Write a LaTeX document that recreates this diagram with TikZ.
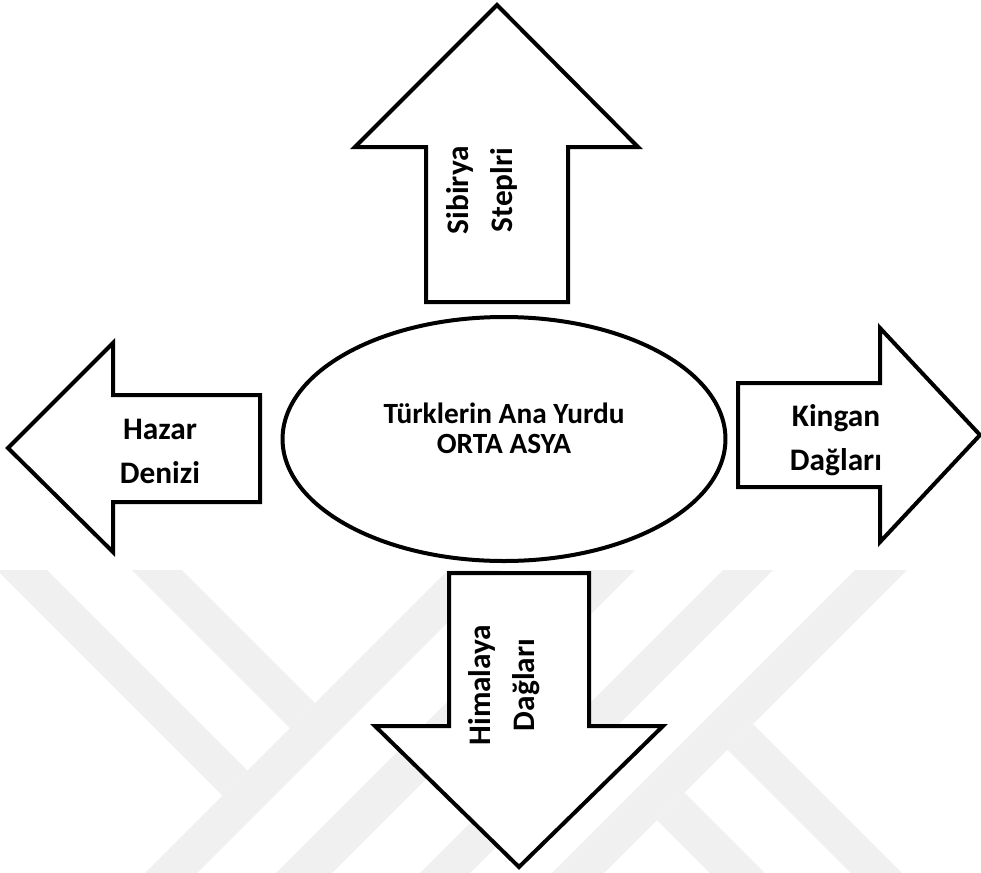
\documentclass[tikz,border=0pt]{standalone}
\usepackage{fontspec}
\setmainfont{Carlito}
\definecolor{wm}{RGB}{240,240,240}
\begin{document}
\begin{tikzpicture}[x=0.75pt,y=-0.75pt,
  blockarrow/.style={draw=black,fill=white,line width=3pt,miter limit=10},
  lbl/.style={font=\bfseries\fontsize{23.5}{33}\selectfont,align=center,inner sep=0pt},
  ctr/.style={font=\bfseries\fontsize{22}{22.5}\selectfont,align=center,inner sep=0pt},
  wmband/.style={fill=wm,draw=none}]
\useasboundingbox (0,0) rectangle (981,872);
\fill[white] (0,0) rectangle (981,872);
% watermark
\begin{scope}
\clip (0,570) rectangle (981,872);
\fill[wmband] (-13,560) -- (222.5,795.5) -- (247.5,770.5) -- (37,560) -- cycle;
\fill[wmband] (122,560) -- (290,728) -- (315,703) -- (172,560) -- cycle;
\fill[wmband] (458,560) -- (510,560) -- (190,880) -- (138,880) -- cycle;
\fill[wmband] (589,560) -- (645,560) -- (325,880) -- (269,880) -- cycle;
\fill[wmband] (733,560) -- (783,560) -- (463,880) -- (413,880) -- cycle;
\fill[wmband] (865,560) -- (917,560) -- (597,880) -- (545,880) -- cycle;
\fill[wmband] (727.5,749.5) -- (753,724) -- (909,880) -- (858,880) -- cycle;
\fill[wmband] (657,820) -- (684.5,792.5) -- (772,880) -- (717,880) -- cycle;
\end{scope}
% up arrow
\draw[blockarrow] (426,302) -- (426,147) -- (355,147) -- (497,5) -- (638,147) -- (568,147) -- (568,302) -- cycle;
% left arrow
\draw[blockarrow] (260,395) -- (113,395) -- (113,343) -- (8,448) -- (113,552) -- (113,502) -- (260,502) -- cycle;
% right arrow
\draw[blockarrow] (738,383) -- (880,383) -- (880,328) -- (980,435) -- (880,542) -- (880,487) -- (738,487) -- cycle;
% down arrow
\draw[blockarrow] (449,573) -- (589,573) -- (589,726) -- (663,726) -- (519,867) -- (375,726) -- (449,726) -- cycle;
% centre ellipse
\draw[line width=3pt,fill=white] (504,439) ellipse [x radius=166.1pt, y radius=91.5pt];
\node[ctr] (yurt) at (504,428) {Türklerin Ana Yurdu\\ORTA ASYA};
\node[lbl] (hazar) at (160,451) {Hazar\\Denizi};
\node[lbl] (kingan) at (836,440) {Kingan\\Dağları};
\node[lbl,rotate=90] (sibirya) at (482,190) {Sibirya\\Steplri};
\node[lbl,rotate=90] (himalaya) at (504,685) {Himalaya\\Dağları};
\end{tikzpicture}
\end{document}
